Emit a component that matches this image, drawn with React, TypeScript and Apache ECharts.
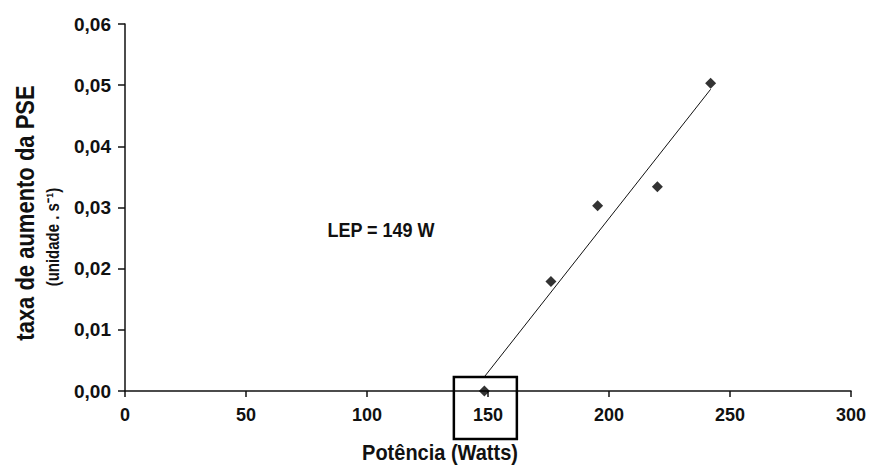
import React, { useEffect, useRef } from "react";
import * as echarts from "echarts";

const powerWatts = [148.5, 176, 195.3, 220, 242];
const rateValues = [0.0, 0.0179, 0.0303, 0.0334, 0.0503];
const xTicks = [0, 50, 100, 150, 200, 250, 300];
const yTicks = [0, 0.01, 0.02, 0.03, 0.04, 0.05, 0.06];
const yTitle = "taxa de aumento da PSE";
const ySubtitle = "(unidade . s⁻¹)";
const xTitle = "Potência (Watts)";
const lepLabel = "LEP = 149 W";
const boxedValue = 148.5;

const FONT = '"Liberation Sans", Arial, sans-serif';

function regression(xs: number[], ys: number[]) {
  const n = xs.length;
  const mx = xs.reduce((a, b) => a + b, 0) / n;
  const my = ys.reduce((a, b) => a + b, 0) / n;
  let sxy = 0;
  let sxx = 0;
  for (let i = 0; i < n; i++) {
    sxy += (xs[i] - mx) * (ys[i] - my);
    sxx += (xs[i] - mx) * (xs[i] - mx);
  }
  const slope = sxy / sxx;
  const intercept = my - slope * mx;
  return { slope, intercept };
}

export default function App() {
  const ref = useRef<HTMLDivElement>(null);
  useEffect(() => {
    if (!ref.current) return;
    const chart = echarts.init(ref.current, undefined, { renderer: "svg" });
    const { slope, intercept } = regression(powerWatts, rateValues);
    const xMin = Math.min(...powerWatts);
    const xMax = Math.max(...powerWatts);
    const trend = [
      [xMin, slope * xMin + intercept],
      [xMax, slope * xMax + intercept],
    ];
    const points = powerWatts.map((x, i) => [x, rateValues[i]]);

    chart.setOption({
      animation: false,
      backgroundColor: "#ffffff",
      grid: { left: 125, right: 14, top: 24, bottom: 74 },
      xAxis: {
        type: "value",
        min: xTicks[0],
        max: xTicks[xTicks.length - 1],
        interval: 50,
        splitLine: { show: false },
        axisLine: { lineStyle: { color: "#111", width: 1.5 } },
        axisTick: { length: 6, lineStyle: { color: "#111", width: 1.5 } },
        axisLabel: {
          margin: 15,
          color: "#111",
          fontFamily: FONT,
          fontWeight: "bold",
          fontSize: 18,
        },
      },
      yAxis: {
        type: "value",
        min: yTicks[0],
        max: yTicks[yTicks.length - 1],
        interval: 0.01,
        splitLine: { show: false },
        axisLine: { lineStyle: { color: "#111", width: 1.5 } },
        axisTick: { length: 7, lineStyle: { color: "#111", width: 1.5 } },
        axisLabel: {
          margin: 14,
          color: "#111",
          fontFamily: FONT,
          fontWeight: "bold",
          fontSize: 19,
          formatter: (v: number) => v.toFixed(2).replace(".", ","),
        },
      },
      series: [
        {
          type: "line",
          data: trend,
          symbol: "none",
          lineStyle: { color: "#111", width: 1 },
          z: 2,
        },
        {
          type: "scatter",
          data: points,
          symbol: "diamond",
          symbolSize: 11,
          itemStyle: { color: "#000" },
          z: 3,
        },
      ],
    });

    const p = chart.convertToPixel({ gridIndex: 0 }, [boxedValue, 0]) as number[];
    chart.setOption({
      graphic: [
        {
          type: "rect",
          shape: { x: p[0] - 30.5, y: p[1] - 14, width: 63, height: 62 },
          style: { fill: "rgba(0,0,0,0)", stroke: "#000", lineWidth: 2.5 },
          z: 10,
        },
        {
          type: "text",
          x: 381,
          y: 230,
          scaleY: 1.1,
          style: {
            text: lepLabel,
            fill: "#111",
            font: `bold 18px ${FONT}`,
            align: "center",
            verticalAlign: "middle",
          },
        },
        {
          type: "text",
          x: 440,
          y: 452,
          scaleY: 1.1,
          style: {
            text: xTitle,
            fill: "#111",
            font: `bold 20px ${FONT}`,
            align: "center",
            verticalAlign: "middle",
          },
        },
        {
          type: "text",
          x: 25,
          y: 213,
          rotation: Math.PI / 2,
          scaleY: 1.2,
          style: {
            text: yTitle,
            fill: "#111",
            font: `bold 22px ${FONT}`,
            align: "center",
            verticalAlign: "middle",
          },
        },
        {
          type: "text",
          x: 53,
          y: 237,
          rotation: Math.PI / 2,
          scaleY: 1.2,
          style: {
            text: ySubtitle,
            fill: "#111",
            font: `bold 15px ${FONT}`,
            align: "center",
            verticalAlign: "middle",
          },
        },
      ],
    });

    return () => chart.dispose();
  }, []);
  return <div ref={ref} style={{ width: 869, height: 465, position: "absolute", left: 0, top: 0 }} />;
}
